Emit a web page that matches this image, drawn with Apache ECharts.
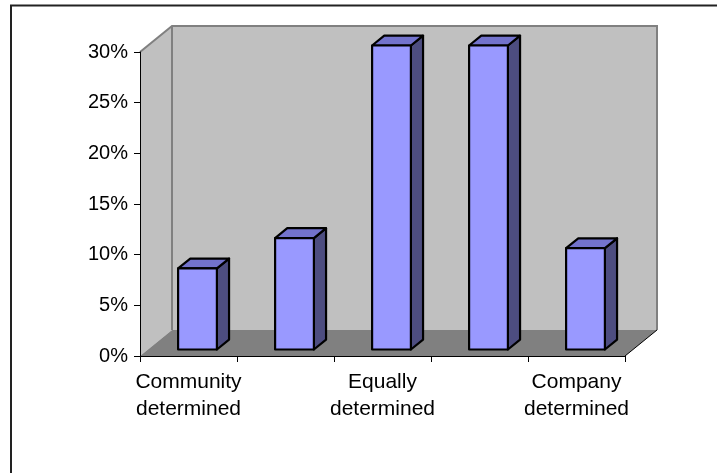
<!DOCTYPE html>
<html>
<head>
<meta charset="utf-8">
<script src="https://cdn.jsdelivr.net/npm/echarts@6/dist/echarts.min.js"></script>
<style>
html,body{margin:0;padding:0;background:#fff;}
#chart{width:717px;height:473px;}
</style>
</head>
<body>
<div id="chart"></div>
<script>
// ---- data ----
const categories = ['Community\ndetermined', '', 'Equally\ndetermined', '', 'Company\ndetermined'];
const values = [8, 11, 30, 30, 10];
const yTicks = [0, 5, 10, 15, 20, 25, 30];

// ---- styling constants (3D look) ----
const DX = 32, DY = -26;      // depth offset of back wall
const F0 = 0.25, F1 = 0.63;   // bar depth fractions
const BAR_W = 0.40;           // bar width fraction of band
const FONT = '"Liberation Sans", Arial, sans-serif';

const chart = echarts.init(document.getElementById('chart'), null, {renderer: 'canvas'});

function renderWalls(params, api) {
  const cs = params.coordSys;
  const x0 = cs.x, x1 = cs.x + cs.width, yT = cs.y, yB = cs.y + cs.height;
  return {
    type: 'group',
    children: [
      {type: 'polygon', shape: {points: [[x0, yT], [x0 + DX, yT + DY], [x0 + DX, yB + DY], [x0, yB]]},
        style: {fill: '#C0C0C0'}},
      {type: 'rect', shape: {x: x0 + DX, y: yT + DY, width: cs.width, height: cs.height},
        style: {fill: '#C0C0C0'}},
      {type: 'polygon', shape: {points: [[x0, yB], [x1, yB], [x1 + DX, yB + DY], [x0 + DX, yB + DY]]},
        style: {fill: '#808080'}},
      {type: 'polyline', shape: {points: [[x0, yT], [x0 + DX, yT + DY], [x1 + DX, yT + DY], [x1 + DX, yB + DY]]},
        style: {stroke: '#808080', lineWidth: 2, fill: null}},
      {type: 'line', shape: {x1: x0 + DX, y1: yT + DY, x2: x0 + DX, y2: yB + DY},
        style: {stroke: '#808080', lineWidth: 2}},
      {type: 'line', shape: {x1: x1, y1: yB, x2: x1 + DX, y2: yB + DY},
        style: {stroke: '#000', lineWidth: 1}}
    ]
  };
}

function renderBar(params, api) {
  const i = api.value(0), v = api.value(1);
  const base = api.coord([i, 0]), top = api.coord([i, v]);
  const band = api.size([1, 0])[0];
  const w = band * BAR_W;
  const ox0 = DX * F0, oy0 = DY * F0;
  const bdx = DX * (F1 - F0), bdy = DY * (F1 - F0);
  const xl = base[0] - w / 2 + ox0 + 1, xr = xl + w;
  const yb = base[1] + oy0, yt = top[1] + oy0;
  const stroke = {stroke: '#000', lineWidth: 2.2, lineJoin: 'round'};
  return {
    type: 'group',
    children: [
      {type: 'polygon', shape: {points: [[xr, yt], [xr + bdx, yt + bdy], [xr + bdx, yb + bdy], [xr, yb]]},
        style: Object.assign({fill: '#4D4D80'}, stroke)},
      {type: 'polygon', shape: {points: [[xl, yt], [xr, yt], [xr + bdx, yt + bdy], [xl + bdx, yt + bdy]]},
        style: Object.assign({fill: '#7373CC'}, stroke)},
      {type: 'rect', shape: {x: xl, y: yt, width: w, height: yb - yt},
        style: Object.assign({fill: '#9999FF'}, stroke)}
    ]
  };
}

const option = {
  animation: false,
  backgroundColor: '#fff',
  textStyle: {fontFamily: FONT},
  graphic: [{
    type: 'rect', z: 100, silent: true,
    shape: {x: 11, y: 5.5, width: 800, height: 600},
    style: {fill: null, stroke: '#222', lineWidth: 2}
  }],
  grid: {left: 140, top: 52, right: 92, bottom: 117, containLabel: false},
  xAxis: {
    type: 'category',
    data: categories,
    z: 10,
    axisLine: {show: true, lineStyle: {color: '#000', width: 1}},
    axisTick: {show: true, interval: 0, length: 6, lineStyle: {color: '#000'}},
    axisLabel: {interval: 0, color: '#000', fontSize: 21, lineHeight: 27, margin: 13, fontFamily: FONT},
    splitLine: {show: false}
  },
  yAxis: {
    type: 'value',
    min: yTicks[0], max: yTicks[yTicks.length - 1], interval: yTicks[1] - yTicks[0],
    z: 10,
    axisLine: {show: true, lineStyle: {color: '#000', width: 1}},
    axisTick: {show: true, length: 6, lineStyle: {color: '#000'}},
    axisLabel: {formatter: '{value}%', color: '#000', fontSize: 20, margin: 12, fontFamily: FONT},
    splitLine: {show: false}
  },
  series: [
    {type: 'custom', name: 'walls', z: 1, silent: true, clip: false,
      renderItem: renderWalls, data: [[0, 0]]},
    {type: 'custom', name: 'bars', z: 2, silent: true, clip: false,
      renderItem: renderBar, encode: {x: 0, y: 1},
      data: values.map((v, i) => [i, v])}
  ]
};
chart.setOption(option);
</script>
</body>
</html>
